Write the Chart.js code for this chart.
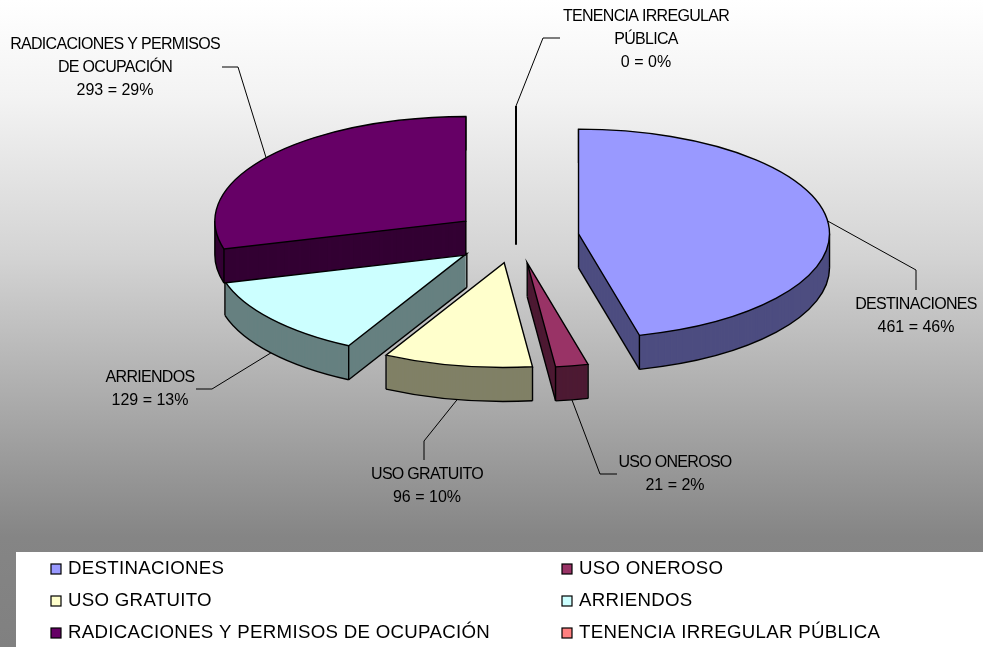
<!DOCTYPE html>
<html>
<head>
<meta charset="utf-8">
<script src="https://cdn.jsdelivr.net/npm/chart.js@4"></script>
<style>
    html, body { margin: 0; padding: 0; background: #fff; }
    canvas { display: block; }
</style>
</head>
<body>
<canvas id="pieChart" width="983" height="647"></canvas>
<script>
const categories = ['DESTINACIONES', 'USO ONEROSO', 'USO GRATUITO', 'ARRIENDOS', 'RADICACIONES Y PERMISOS DE OCUPACIÓN', 'TENENCIA IRREGULAR PÚBLICA'];
const values = [461, 21, 96, 129, 293, 0];
const topColors = ['#9999FF', '#993366', '#FFFFCC', '#CCFFFF', '#660066', '#FF8080'];
const sideColors = ['#4D4D80', '#4D1A33', '#808066', '#668080', '#330033', '#804040'];

// wrapped text of the data labels
const labelLines = [
    ['DESTINACIONES'],
    ['USO ONEROSO'],
    ['USO GRATUITO'],
    ['ARRIENDOS'],
    ['RADICACIONES Y PERMISOS', 'DE OCUPACIÓN'],
    ['TENENCIA IRREGULAR', 'PÚBLICA']
];
// label centre, first line y, and the leader elbow + end
const labelBoxes = [
    { x: 916, y: 305, elbow: [916, 270], end: [916, 290] },
    { x: 675, y: 463, elbow: [600, 474], end: [617, 474] },
    { x: 427, y: 475, elbow: [424, 441], end: [424, 460] },
    { x: 150, y: 378, elbow: [212, 389], end: [196, 389] },
    { x: 115, y: 45, elbow: [238, 67], end: [222, 67] },
    { x: 646, y: 17, elbow: [543, 38], end: [560, 38] }
];
// legend order: two columns, three rows
const legendCols = [51, 562];
const legendRows = [570, 602, 634];

const PIE_RADIUS = 251;
const TILT = 0.417;     // vertical squash of the pie
const DEPTH = 34;       // wall height
const EXPLODE = 63;     // how far each slice is pulled out
const LABEL_FONT = '16px "Liberation Sans", Arial, sans-serif';
const LEGEND_FONT = '18.67px "Liberation Sans", Arial, sans-serif';

const total = values.reduce((a, b) => a + b, 0);

function sliceOffset(arc) {
    const mid = (arc.startAngle + arc.endAngle) / 2;
    return { dx: Math.cos(mid) * EXPLODE, dy: Math.sin(mid) * EXPLODE };
}

// moves ctx so the flat arc lands on the tilted, exploded spot
function applySliceTransform(ctx, arc, lift) {
    const off = sliceOffset(arc);
    ctx.translate(arc.x, arc.y + lift);
    ctx.scale(1, TILT);
    ctx.translate(-arc.x + off.dx, -arc.y + off.dy);
}

function rimPoint(arc, angle, lift) {
    const off = sliceOffset(arc);
    return {
        x: arc.x + off.dx + Math.cos(angle) * arc.outerRadius,
        y: arc.y + lift + (off.dy + Math.sin(angle) * arc.outerRadius) * TILT
    };
}

function drawFlat(ctx, arc, color, lift) {
    const saved = arc.options;
    arc.options = { ...saved, backgroundColor: color };
    ctx.save();
    applySliceTransform(ctx, arc, lift);
    arc.draw(ctx);
    ctx.restore();
    arc.options = saved;
}

function line(ctx, x1, y1, x2, y2) {
    ctx.beginPath();
    ctx.moveTo(x1, y1);
    ctx.lineTo(x2, y2);
    ctx.stroke();
}

function drawSlice(ctx, arc, i) {
    const top = -Math.PI / 2;
    const start = arc.startAngle;
    const end = arc.endAngle;
    const apex = sliceOffset(arc);
    const apexX = arc.x + apex.dx;
    const apexY = arc.y + apex.dy * TILT;

    ctx.strokeStyle = '#000';
    ctx.lineWidth = 1.4;

    if (arc.circumference === 0) {
        // empty slice only shows up as its edge
        ctx.lineWidth = 2;
        const p = rimPoint(arc, start, 0);
        line(ctx, p.x, p.y, apexX, apexY + DEPTH);
        return;
    }

    // walls
    for (let d = DEPTH; d > 0; d--) {
        drawFlat(ctx, arc, sideColors[i], d);
    }

    // front part of the bottom rim
    const rimFrom = Math.max(start, 0);
    const rimTo = Math.min(end, Math.PI);
    if (rimTo > rimFrom) {
        ctx.save();
        applySliceTransform(ctx, arc, DEPTH);
        ctx.beginPath();
        ctx.arc(arc.x, arc.y, arc.outerRadius, rimFrom, rimTo);
        ctx.restore();
        ctx.stroke();
    }

    // bottom edges of the radial faces which look to the viewer
    const startFrom = start - top;
    const endFrom = end - top;
    if (Math.sin(startFrom) < -0.001) {
        const p = rimPoint(arc, start, DEPTH);
        line(ctx, apexX, apexY + DEPTH, p.x, p.y);
    }
    if (Math.sin(endFrom) > 0.001) {
        const p = rimPoint(arc, end, DEPTH);
        line(ctx, apexX, apexY + DEPTH, p.x, p.y);
    }

    // vertical edges
    line(ctx, apexX, apexY, apexX, apexY + DEPTH);
    [start, end, 0, Math.PI].forEach(a => {
        if (a >= start && a <= end) {
            const p = rimPoint(arc, a, 0);
            line(ctx, p.x, p.y, p.x, p.y + DEPTH);
        }
    });

    // top face
    drawFlat(ctx, arc, topColors[i], 0);
    ctx.save();
    applySliceTransform(ctx, arc, 0);
    ctx.beginPath();
    ctx.moveTo(arc.x, arc.y);
    ctx.arc(arc.x, arc.y, arc.outerRadius, start, end);
    ctx.closePath();
    ctx.restore();
    ctx.stroke();
}

function drawLabels(chart) {
    const ctx = chart.ctx;
    const arcs = chart.getDatasetMeta(0).data;
    ctx.save();
    ctx.font = LABEL_FONT;
    ctx.fillStyle = '#000';
    ctx.textAlign = 'center';
    ctx.textBaseline = 'middle';
    ctx.strokeStyle = '#000';
    ctx.lineWidth = 1;

    arcs.forEach((arc, i) => {
        const box = labelBoxes[i];
        const mid = (arc.startAngle + arc.endAngle) / 2;
        const front = Math.sin(mid) > 0;
        const a = rimPoint(arc, mid, front ? DEPTH : 0);
        ctx.beginPath();
        ctx.moveTo(a.x, a.y);
        ctx.lineTo(box.elbow[0], box.elbow[1]);
        ctx.lineTo(box.end[0], box.end[1]);
        ctx.stroke();

        const pct = Math.round(values[i] / total * 100);
        ctx.letterSpacing = '-0.7px';
        labelLines[i].forEach((text, n) => {
            ctx.fillText(text, box.x, box.y + n * 22.7);
        });
        ctx.letterSpacing = '0px';
        ctx.fillText(values[i] + ' = ' + pct + '%', box.x, box.y + labelLines[i].length * 22.7);
    });
    ctx.restore();
}

function drawLegend(chart) {
    const ctx = chart.ctx;
    ctx.save();
    ctx.fillStyle = '#fff';
    ctx.fillRect(16, 552, chart.width - 16, chart.height - 552);
    ctx.font = LEGEND_FONT;
    ctx.letterSpacing = '0.3px';
    ctx.textAlign = 'left';
    ctx.textBaseline = 'middle';
    categories.forEach((name, i) => {
        const x = legendCols[i % 2];
        const y = legendRows[Math.floor(i / 2)];
        ctx.fillStyle = topColors[i];
        ctx.strokeStyle = '#000';
        ctx.lineWidth = 1.2;
        ctx.fillRect(x, y - 6, 10, 10);
        ctx.strokeRect(x, y - 6, 10, 10);
        ctx.fillStyle = '#000';
        ctx.fillText(name, x + 17, y - 1);
    });
    ctx.restore();
}

const tiltedPie = {
    id: 'tiltedPie',
    beforeDraw(chart) {
        const ctx = chart.ctx;
        const g = ctx.createLinearGradient(0, 0, 0, chart.height);
        g.addColorStop(0, '#ffffff');
        g.addColorStop(0.15, '#f3f3f3');
        g.addColorStop(0.4, '#d3d3d3');
        g.addColorStop(0.83, '#858585');
        g.addColorStop(1, '#808080');
        ctx.save();
        ctx.fillStyle = g;
        ctx.fillRect(0, 0, chart.width, chart.height);
        ctx.restore();
    },
    beforeDatasetsDraw(chart) {
        chart.getDatasetMeta(0).data.forEach((arc, i) => drawSlice(chart.ctx, arc, i));
        return false;
    },
    afterDraw(chart) {
        drawLabels(chart);
        drawLegend(chart);
    }
};

new Chart(document.getElementById('pieChart'), {
    type: 'pie',
    data: {
        labels: categories,
        datasets: [{
            data: values,
            backgroundColor: topColors,
            borderWidth: 0
        }]
    },
    options: {
        responsive: false,
        animation: false,
        radius: PIE_RADIUS,
        layout: { padding: { left: 49, bottom: 173 } },
        plugins: { legend: { display: false }, tooltip: { enabled: false } }
    },
    plugins: [tiltedPie]
});
</script>
</body>
</html>
